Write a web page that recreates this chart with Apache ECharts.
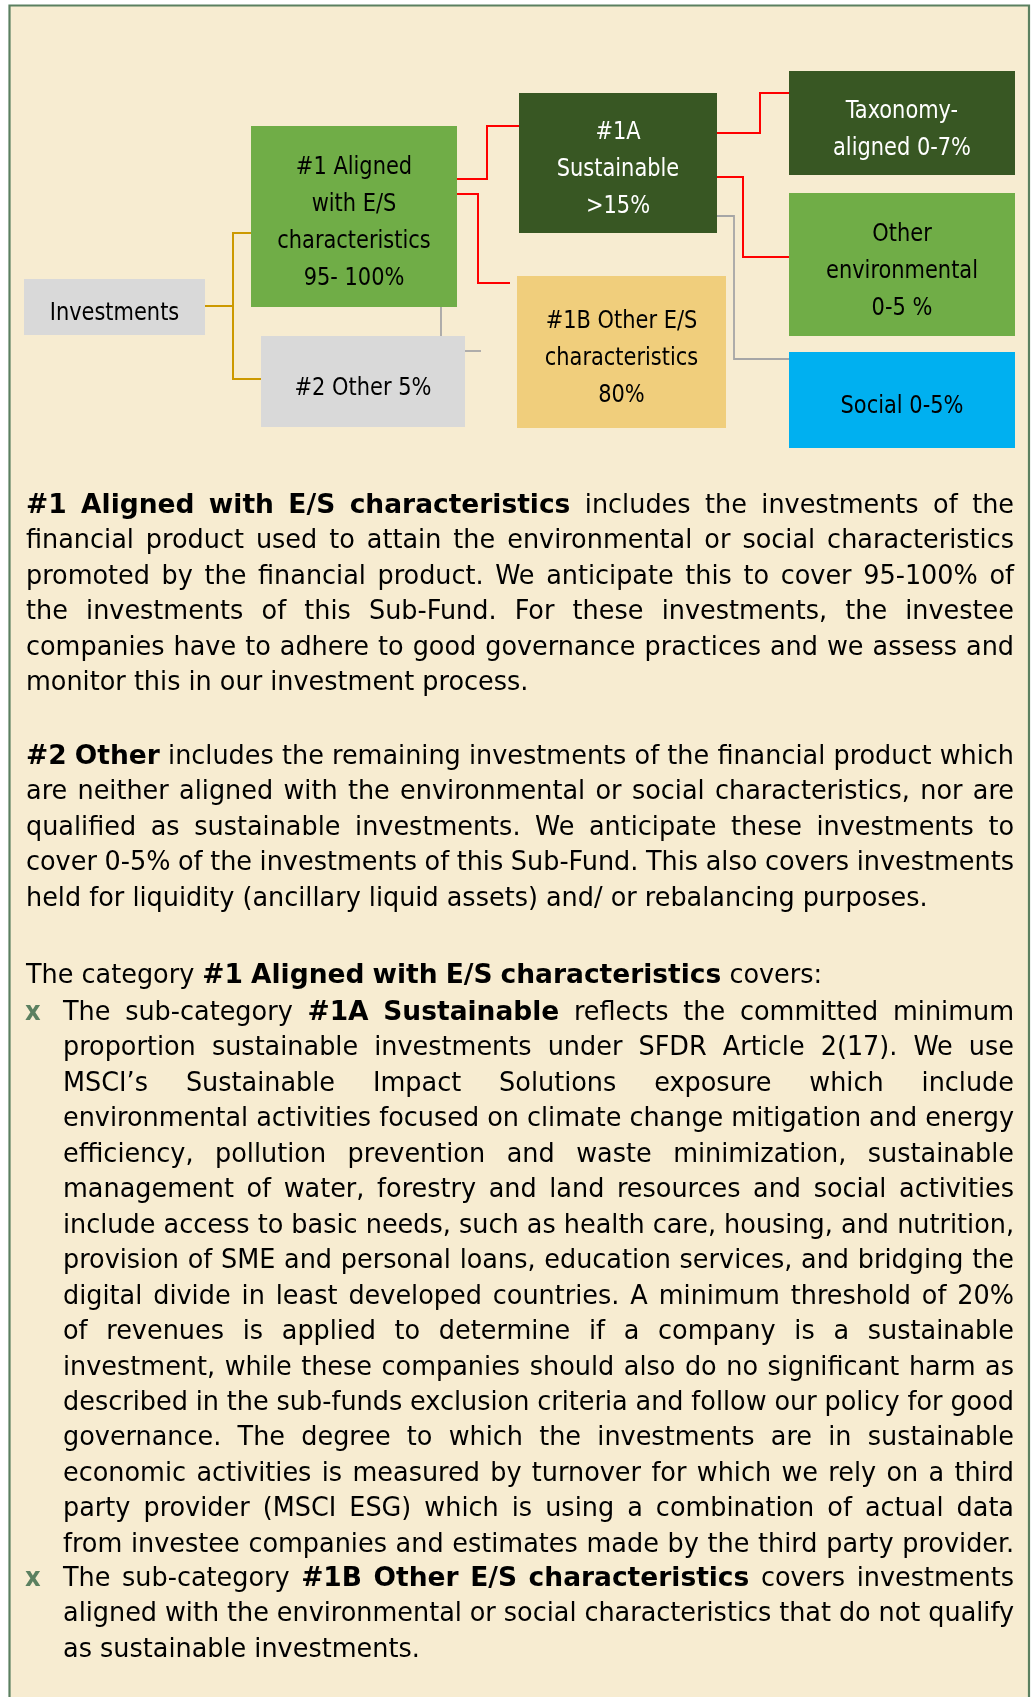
<!DOCTYPE html>
<html>
<head>
<meta charset="utf-8">
<script src="https://cdn.jsdelivr.net/npm/echarts@6/dist/echarts.min.js"></script>
<style>
html,body{margin:0;padding:0;background:#fff}
#main{width:1035px;height:1697px}
</style>
</head>
<body>
<div id="main"></div>
<script>
// ---- diagram data ----
var nodeLabels = [
  'Investments',
  '#1 Aligned\nwith E/S\ncharacteristics\n95- 100%',
  '#2 Other 5%',
  '#1A\nSustainable\n>15%',
  '#1B Other E/S\ncharacteristics\n80%',
  'Taxonomy-\naligned 0-7%',
  'Other\nenvironmental\n0-5 %',
  'Social 0-5%'
];
var nodeGroups = ['base', 'aligned', 'base', 'sustainable', 'otherES', 'sustainable', 'aligned', 'social'];
var links = [[0, 1], [0, 2], [1, 2], [1, 3], [1, 4], [3, 5], [3, 6], [3, 7], [2, -1]];
var linkKinds = ['gold', 'gold', 'grey', 'red', 'red', 'red', 'red', 'grey', 'grey'];

// ---- text data ----
var para1 = [
  '**#1 Aligned with E/S characteristics** includes the investments of the',
  'financial product used to attain the environmental or social characteristics',
  'promoted by the financial product. We anticipate this to cover 95-100% of',
  'the investments of this Sub-Fund. For these investments, the investee',
  'companies have to adhere to good governance practices and we assess and',
  'monitor this in our investment process.'
];
var para2 = [
  '**#2 Other** includes the remaining investments of the financial product which',
  'are neither aligned with the environmental or social characteristics, nor are',
  'qualified as sustainable investments. We anticipate these investments to',
  'cover 0-5% of the investments of this Sub-Fund. This also covers investments',
  'held for liquidity (ancillary liquid assets) and/ or rebalancing purposes.'
];
var introLine = ['The category **#1 Aligned with E/S characteristics** covers:'];
var bullet1 = [
  'The sub-category **#1A Sustainable** reflects the committed minimum',
  'proportion sustainable investments under SFDR Article 2(17). We use',
  'MSCI’s Sustainable Impact Solutions exposure which include',
  'environmental activities focused on climate change mitigation and energy',
  'efficiency, pollution prevention and waste minimization, sustainable',
  'management of water, forestry and land resources and social activities',
  'include access to basic needs, such as health care, housing, and nutrition,',
  'provision of SME and personal loans, education services, and bridging the',
  'digital divide in least developed countries. A minimum threshold of 20%',
  'of revenues is applied to determine if a company is a sustainable',
  'investment, while these companies should also do no significant harm as',
  'described in the sub-funds exclusion criteria and follow our policy for good',
  'governance. The degree to which the investments are in sustainable',
  'economic activities is measured by turnover for which we rely on a third',
  'party provider (MSCI ESG) which is using a combination of actual data',
  'from investee companies and estimates made by the third party provider.'
];
var bullet2 = [
  'The sub-category **#1B Other E/S characteristics** covers investments',
  'aligned with the environmental or social characteristics that do not qualify',
  'as sustainable investments.'
];

// ---- layout & styles ----
var boxes = [
  [24, 279, 181, 56], [251, 126, 206, 181], [261, 336, 204, 91],
  [519, 93, 198, 140], [517, 276, 209, 152],
  [789, 71, 226, 104], [789, 193, 226, 143], [789, 352, 226, 96]
];
// [start y, elbow x, end y, end x]
var routes = [
  [306, 233, 233, null], [306, 233, 379, null], null,
  [179, 487, 126, null], [194, 478, 283, 510],
  [133, 760, 93, null], [177, 743, 257, null], [216, 734, 359, null],
  [351, null, 351, 481]
];
var groupFill = {base: '#D9D9D9', aligned: '#70AD47', sustainable: '#385723', otherES: '#F0CE7C', social: '#00B0F0'};
var kindColor = {gold: '#CC9900', grey: '#A6A6A6', red: '#FF0000'};
var FAMILY = '"DejaVu Sans Condensed", "DejaVu Sans", sans-serif';
var BODY = 27;
var STRETCH = {regular: 1.05, bold: 1.09};

function route(k) {
  var a = boxes[links[k][0]], r = routes[k];
  if (!r) {
    var b = boxes[links[k][1]];
    return [[441, a[1] + a[3]], [441, b[1]]];
  }
  var x0 = a[0] + a[2];
  var x1 = r[3] != null ? r[3] : boxes[links[k][1]][0];
  if (r[1] == null) return [[x0, r[0]], [x1, r[2]]];
  return [[x0, r[0]], [r[1], r[0]], [r[1], r[2]], [x1, r[2]]];
}

// justified text built word by word
var mctx = document.createElement('canvas').getContext('2d');
function fontOf(b) { return (b ? 'bold ' : '') + BODY + 'px ' + FAMILY; }
function splitWords(line) {
  var out = [];
  line.split('**').forEach(function (seg, k) {
    seg.split(' ').forEach(function (w) { if (w) out.push({t: w, b: k % 2 === 1}); });
  });
  return out;
}
var textEls = [];
function drawLine(line, x0, x1, y, justify) {
  var ws = splitWords(line);
  var widths = ws.map(function (w) {
    mctx.font = fontOf(w.b);
    return mctx.measureText(w.t).width * (w.b ? STRETCH.bold : STRETCH.regular);
  });
  var sum = widths.reduce(function (s, v) { return s + v; }, 0);
  mctx.font = fontOf(false);
  var sp = mctx.measureText(' ').width * STRETCH.regular;
  var gap = sp, sx = 1;
  if (justify && ws.length > 1) {
    gap = (x1 - x0 - sum) / (ws.length - 1);
    if (gap < sp * 0.6) { gap = sp * 0.6; sx = (x1 - x0 - gap * (ws.length - 1)) / sum; }
  } else if (sum + sp * (ws.length - 1) > x1 - x0) {
    sx = (x1 - x0 - sp * (ws.length - 1)) / sum;
  }
  var x = x0;
  ws.forEach(function (w, k) {
    textEls.push({type: 'text', x: x, y: y, silent: true, z: 10,
      scaleX: sx * (w.b ? STRETCH.bold : STRETCH.regular),
      style: {text: w.t, font: fontOf(w.b), fill: '#000', verticalAlign: 'middle'}});
    x += widths[k] * sx + gap;
  });
}
function drawBlock(lines, x0, y0, lastJustified) {
  lines.forEach(function (l, i) {
    drawLine(l, x0, 1014, y0 + i * 35.45, lastJustified || i < lines.length - 1);
  });
}
var dy = 2;
drawBlock(para1, 26, 504 + dy, false);
drawBlock(para2, 26, 755 + dy, false);
drawBlock(introLine, 26, 974 + dy, false);
drawBlock(bullet1, 63, 1011 + dy, true);
drawBlock(bullet2, 63, 1577 + dy, false);
[1011, 1577].forEach(function (y) {
  textEls.push({type: 'text', x: 25, y: y + dy, silent: true, z: 10,
    style: {text: 'x', font: 'bold ' + BODY + 'px ' + FAMILY, fill: '#5B8060', verticalAlign: 'middle'}});
});

var chart = echarts.init(document.getElementById('main'));
var option = {
  backgroundColor: '#ffffff',
  animation: false,
  grid: {left: 0, right: 0, top: 0, bottom: 0},
  xAxis: {type: 'value', min: 0, max: 1035, show: false},
  yAxis: {type: 'value', min: 0, max: 1697, inverse: true, show: false},
  graphic: [{
    type: 'rect', z: -10, silent: true,
    shape: {x: 9.5, y: 5.5, width: 1019.5, height: 1800},
    style: {fill: '#F7ECD1', stroke: '#5B8060', lineWidth: 2.2}
  }].concat(textEls),
  series: [
    {
      type: 'lines',
      coordinateSystem: 'cartesian2d',
      polyline: true,
      silent: true,
      z: 1,
      lineStyle: {width: 2, opacity: 1},
      data: links.map(function (l, k) {
        return {coords: route(k), lineStyle: {color: kindColor[linkKinds[k]], width: linkKinds[k] === 'grey' ? 1.8 : 2}};
      })
    },
    {
      type: 'custom',
      coordinateSystem: 'cartesian2d',
      silent: true,
      z: 3,
      data: nodeLabels.map(function (n, i) { return [i, 0]; }),
      renderItem: function (params, api) {
        var i = api.value(0), b = boxes[i];
        var p0 = api.coord([b[0], b[1]]), p1 = api.coord([b[0] + b[2], b[1] + b[3]]);
        var x = Math.min(p0[0], p1[0]), y = Math.min(p0[1], p1[1]);
        var w = Math.abs(p1[0] - p0[0]), h = Math.abs(p1[1] - p0[1]);
        var g = nodeGroups[i];
        return {
          type: 'group',
          children: [
            {type: 'rect', shape: {x: x, y: y, width: w, height: h}, style: {fill: groupFill[g]}},
            {type: 'text', x: x + w / 2, y: y + h / 2 + 7, scaleX: 0.97,
              style: {text: nodeLabels[i], font: '24px ' + FAMILY, fill: g === 'sustainable' ? '#fff' : '#000',
                align: 'center', verticalAlign: 'middle', lineHeight: 37}}
          ]
        };
      }
    }
  ]
};
chart.setOption(option);
</script>
</body>
</html>
